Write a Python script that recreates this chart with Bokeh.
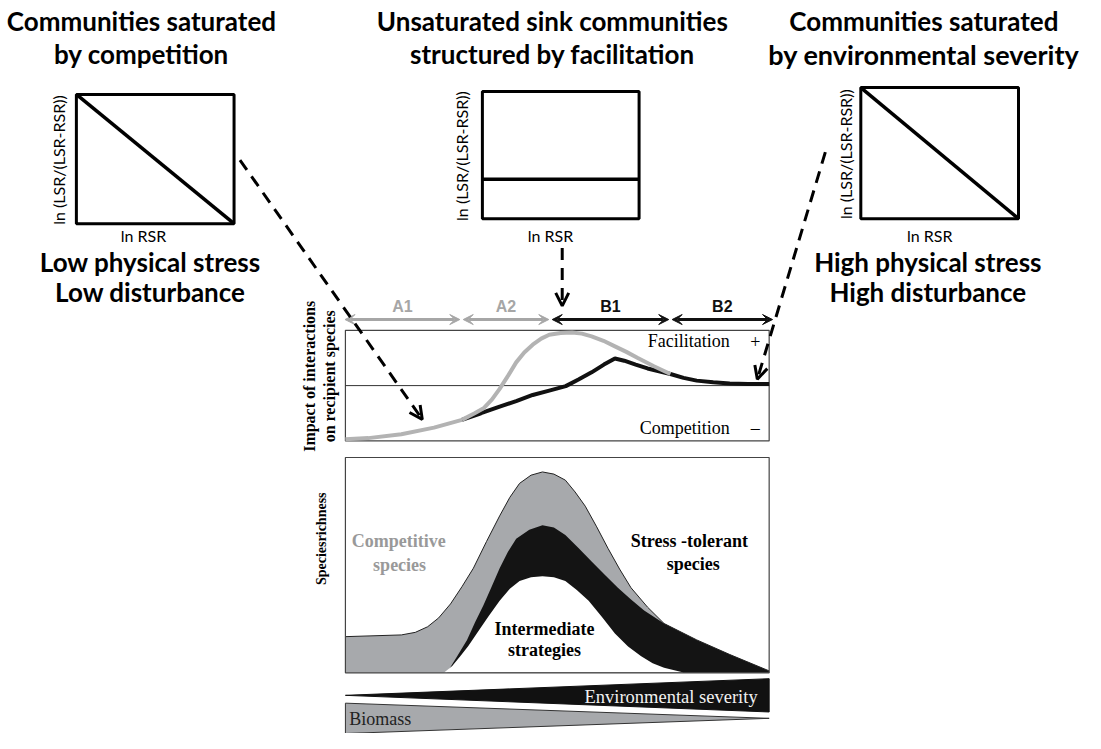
import numpy as np
from bokeh.plotting import figure
from bokeh.models import Range1d, Arrow, VeeHead, OpenHead
from bokeh.core.properties import value
from bokeh.embed import file_html
from bokeh.resources import INLINE

# ---------------- data ----------------
# small panels (ln RSR vs ln(LSR/(LSR-RSR))), unit space
sat_x = [0, 1]
sat_y = [1, 0]
unsat_x = [0, 1]
unsat_y = [0.31, 0.31]

titles_left = ["Communities saturated", "by competition"]
titles_mid = ["Unsaturated sink communities", "structured by facilitation"]
titles_right = ["Communities saturated", "by environmental severity"]
sub_left = ["Low physical stress", "Low disturbance"]
sub_right = ["High physical stress", "High disturbance"]
small_ylabel = "ln (LSR/(LSR-RSR))"
small_xlabel = "ln RSR"

# gradient zones (environmental gradient, 0..100)
zone_labels = ["A1", "A2", "B1", "B2"]
zone_bounds = [-0.5, 27.4, 48.4, 76.7, 101.2]

# impact of interactions (-1 competition .. +1 facilitation)
gray_left_x = [0, 5.4, 13.2, 20.9, 27.5]
gray_left_y = [-0.97, -0.95, -0.88, -0.76, -0.62]
gray_hump_x = [27.5, 30.5, 32.6, 34.6, 36.4, 38.4, 40.3, 42.2, 44.2, 46.2, 48.1, 50.8, 53.5, 55.8,
               58.1, 60.9, 63.6, 66.3, 69.0, 72.8, 76.7]
gray_hump_y = [-0.62, -0.50, -0.41, -0.25, -0.06, 0.18, 0.42, 0.60, 0.74, 0.85, 0.92, 0.95, 0.96, 0.94,
               0.89, 0.81, 0.71, 0.61, 0.50, 0.35, 0.21]
black_x = [27.5, 32.0, 36.4, 40.3, 44.2, 48.1, 52.0, 55.0, 58.1, 61.0, 63.6, 65.8, 68.5, 71.3, 74.0,
           76.7, 79.8, 82.9, 86.8, 90.7, 95.0, 100]
black_y = [-0.62, -0.50, -0.38, -0.28, -0.17, -0.09, -0.01, 0.11, 0.24, 0.38, 0.49, 0.45, 0.38, 0.31, 0.26,
           0.21, 0.14, 0.09, 0.06, 0.04, 0.03, 0.03]

# species richness (0..100)
outer_x = [0, 13.2, 16.5, 19.4, 22.0, 24.8, 27.5, 30.2, 33.3, 36.4, 38.8, 41.1, 43.8, 46.5, 49.2, 51.9,
           54.2, 56.6, 59.3, 62.0, 64.7, 67.4, 71.3, 75.2, 82.9, 90.7, 100]
outer_y = [16.8, 17.6, 18.8, 21.4, 25.5, 32.0, 40.0, 48.6, 61.0, 72.9, 81.5, 88.0, 91.8, 93.3, 92.3, 89.5,
           84.0, 77.4, 67.8, 57.7, 48.2, 39.5, 30.5, 22.9, 15.3, 8.5, 0.9]
stress_top_x = [24.0, 26.3, 28.7, 30.6, 32.6, 34.5, 36.4, 38.3, 40.3, 43.4, 46.5, 49.2, 51.9, 55.0,
                58.1, 61.2, 64.3, 67.4, 70.5, 75.2]
stress_top_y = [0.1, 7.5, 15.3, 23.5, 31.5, 40.0, 48.6, 56.0, 62.3, 66.5, 68.6, 67.5, 64.0, 58.0,
                51.7, 45.5, 39.5, 34.0, 28.9, 22.9]
inter_x = [23.3, 25.2, 27.1, 29.0, 31.0, 33.7, 36.4, 38.8, 41.1, 43.8, 46.5, 49.2, 51.9, 54.6, 57.4,
           60.5, 63.6, 66.7, 69.8, 72.5, 75.2, 79.8]
inter_y = [0.1, 3.2, 7.7, 12.5, 18.3, 26.0, 33.5, 39.0, 42.6, 44.4, 44.9, 44.4, 42.6, 38.5, 33.5,
           26.0, 18.3, 12.2, 7.7, 4.5, 2.4, 0.1]

# ---------------- figure ----------------
W, H = 1085, 733          # figure size in screen pixels
RW, RH = 1101, 749        # layout space
p = figure(width=W, height=H, x_range=Range1d(0, RW), y_range=Range1d(RH, 0),
           output_backend="svg", toolbar_location=None, min_border=0,
           x_axis_location=None, y_axis_location=None)
p.grid.visible = False
p.outline_line_color = None


def xr(d1, r1, d2, r2):
    k = (r2 - r1) / (d2 - d1)
    s = d1 - r1 / k
    return Range1d(s, s + RW / k)


def yr(d1, r1, d2, r2):
    k = (r1 - r2) / (d2 - d1)
    s = d1 - (RH - r1) / k
    return Range1d(s, s + RH / k)


p.extra_x_ranges = {"grad": xr(0, 350, 100, 780),
                    "s1x": xr(0, 77, 1, 237), "s2x": xr(0, 489, 1, 648), "s3x": xr(0, 873, 1, 1033)}
p.extra_y_ranges = {"imp": yr(-1, 450, 1, 337), "rich": yr(0, 687, 100, 467),
                    "s1y": yr(0, 228, 1, 96), "s2y": yr(0, 223, 1, 93), "s3y": yr(0, 223, 1, 89)}

CAL = value("Lato")
SERIF = value("Liberation Serif")
SANS = value("Liberation Sans")


def txt(x, y, t, size, font=CAL, style="bold", color="black", align="center", angle=0, xn="default", yn="default"):
    p.text(x=[x], y=[y], text=[t], text_font=font, text_font_size=f"{size}px", text_font_style=style,
           text_color=color, text_align=align, text_baseline="middle", angle=angle,
           x_range_name=xn, y_range_name=yn)


# ---- small panels ----
for (xn, yn, lx, ly, ylab_x, ylab_y, xlab_x) in [
        ("s1x", "s1y", sat_x, sat_y, 59, 163, 145),
        ("s2x", "s2y", unsat_x, unsat_y, 468, 159, 558),
        ("s3x", "s3y", sat_x, sat_y, 857, 157, 943)]:
    p.quad(left=[0], right=[1], bottom=[0], top=[1], fill_color=None, line_color="black",
           line_width=3, x_range_name=xn, y_range_name=yn)
    p.line(lx, ly, line_color="black", line_width=3.5, x_range_name=xn, y_range_name=yn)
    txt(ylab_x, ylab_y, small_ylabel, 16, style="normal", angle=np.pi / 2)
    txt(xlab_x, 240, small_xlabel, 16, style="normal")

for (cx, lines, s2) in [(143, titles_left, 26), (560, titles_mid, 26), (937, titles_right, 27)]:
    txt(cx, 21, lines[0], 26)
    txt(cx, 55, lines[1], s2)
for (cx, lines) in [(152, sub_left), (941, sub_right)]:
    txt(cx, 267, lines[0], 26)
    txt(cx, 298, lines[1], 26)

# ---- zone arrows ----
zone_cols = ["#a6a6a6", "#a6a6a6", "#111111", "#111111"]
for i, lab in enumerate(zone_labels):
    c = zone_cols[i]
    p.add_layout(Arrow(start=VeeHead(size=10, fill_color=c, line_color=c),
                       end=VeeHead(size=10, fill_color=c, line_color=c),
                       x_start=zone_bounds[i] + 0.4, y_start=326, x_end=zone_bounds[i + 1] - 0.4, y_end=326,
                       line_color=c, line_width=3, x_range_name="grad"))
    txt((zone_bounds[i] + zone_bounds[i + 1]) / 2, 313, lab, 16, font=SANS, color=c, xn="grad")

# ---- impact panel ----
p.quad(left=[0], right=[100], bottom=[-1], top=[1], fill_color=None, line_color="#444444",
       line_width=1.2, x_range_name="grad", y_range_name="imp")
p.line([0, 100], [0, 0], line_color="#333333", line_width=1, x_range_name="grad", y_range_name="imp")
p.line(black_x, black_y, line_color="#111111", line_width=4, x_range_name="grad", y_range_name="imp")
p.line(gray_hump_x, gray_hump_y, line_color="#b3b3b3", line_width=4, x_range_name="grad", y_range_name="imp")
p.line(gray_left_x, gray_left_y, line_color="#b3b3b3", line_width=4, x_range_name="grad", y_range_name="imp")
txt(740, 348, "Facilitation", 18, font=SERIF, style="normal", align="right")
txt(766, 348, "+", 18, font=SERIF, style="normal")
txt(740, 437, "Competition", 18, font=SERIF, style="normal", align="right")
txt(766, 437, "\u2013", 18, font=SERIF, style="normal")
txt(314, 384, "Impact of interactions", 16, font=SERIF, angle=np.pi / 2)
txt(334, 384, "on recipient species", 16, font=SERIF, angle=np.pi / 2)

# ---- richness panel ----
p.patch(outer_x + [100, 0], outer_y + [0, 0], fill_color="#a7a9ac", line_color=None,
        x_range_name="grad", y_range_name="rich")
bx = stress_top_x + [x for x in outer_x if x > stress_top_x[-1]] + [100]
by = stress_top_y + [y for x, y in zip(outer_x, outer_y) if x > stress_top_x[-1]] + [0]
p.patch(bx, by, fill_color="#141414", line_color=None, x_range_name="grad", y_range_name="rich")
p.patch(inter_x, inter_y, fill_color="white", line_color=None, x_range_name="grad", y_range_name="rich")
p.line(outer_x, outer_y, line_color="#222222", line_width=1, x_range_name="grad", y_range_name="rich")
p.quad(left=[0], right=[100], bottom=[0], top=[100], fill_color=None, line_color="#444444",
       line_width=1.2, x_range_name="grad", y_range_name="rich")
txt(404, 552, "Competitive", 18, font=SERIF, color="#999999")
txt(405, 577, "species", 18, font=SERIF, color="#999999")
txt(699, 552, "Stress -tolerant", 18, font=SERIF)
txt(703, 576, "species", 18, font=SERIF)
txt(552, 642, "Intermediate", 18, font=SERIF)
txt(552, 664, "strategies", 18, font=SERIF)
txt(326, 550, "Speciesrichness", 14, font=SERIF, angle=np.pi / 2)

# ---- gradient wedges ----
p.patch([0, 100, 100], [710, 693, 727], fill_color="#111111", line_color="#111111",
        x_range_name="grad")
txt(773, 712, "Environmental  severity", 18.5, font=SERIF, style="normal", color="#f2f2f2", align="right")
p.patch([0, 100, 0], [718, 733.5, 749], fill_color="#a7a9ac", line_color="#333333", line_width=1,
        x_range_name="grad")
txt(354, 734, "Biomass", 18, font=SERIF, style="normal", color="#222222", align="left")

# ---- dashed link arrows ----
for (xs, ys, xe, ye) in [(243, 163, 428, 428), (570, 253, 570, 312), (837, 155, 768, 387)]:
    p.add_layout(Arrow(end=OpenHead(size=13, line_width=3, line_color="black"),
                       x_start=xs, y_start=ys, x_end=xe, y_end=ye,
                       line_color="black", line_width=3, line_dash="12 8"))

open("out.html", "w").write(file_html(p, INLINE))
